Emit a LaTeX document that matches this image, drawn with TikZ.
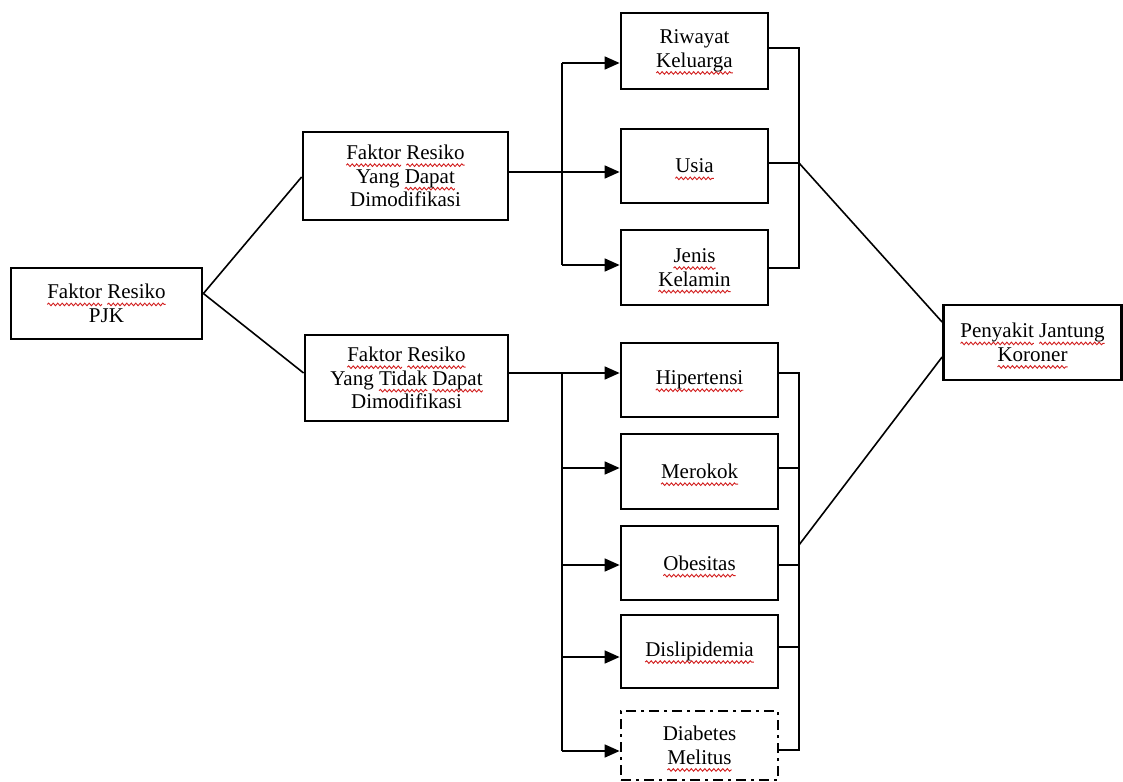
\documentclass[tikz,border=0pt]{standalone}
\usepackage{fontspec}
\setmainfont{Liberation Serif}
\usetikzlibrary{arrows.meta,decorations.pathmorphing}
\definecolor{spell}{RGB}{210,30,30}
\newcommand\rw[1]{\setbox0\hbox{#1}\leavevmode\rlap{\tikz[overlay,baseline=0pt,x=1pt,y=1pt]\draw[spell,solid,line width=0.9pt,decorate,decoration={snake,amplitude=1.3pt,segment length=4.5pt}] (0,-5.5) -- (\wd0,-5.5);}\box0\relax}
\tikzset{
  box/.style={draw, line width=2.8pt, inner sep=0pt, align=center,
    font=\fontsize{21}{23.5}\selectfont},
  dbox/.style={box, dash pattern=on 10pt off 5pt on 3pt off 5pt},
  conn/.style={line width=1.6pt},
  arr/.style={conn, -{Triangle[length=15pt,width=13pt]}}
}
\begin{document}
\begin{tikzpicture}[x=1pt,y=-1pt]
\clip (0,0) rectangle (1123,781);
\fill[white] (0,0) rectangle (1123,781);
% nodes
\node[box, minimum width=191pt, minimum height=71pt] (pjk) at (106.5,303.5) {\rw{Faktor} \rw{Resiko}\\PJK};
\node[box, minimum width=205pt, minimum height=88pt] (dapat) at (405.5,176) {\rw{Faktor} \rw{Resiko}\\Yang \rw{Dapat}\\Dimodifikasi};
\node[box, minimum width=203pt, minimum height=86pt] (tidak) at (406.5,378) {\rw{Faktor} \rw{Resiko}\\Yang \rw{Tidak} \rw{Dapat}\\Dimodifikasi};
\node[box, minimum width=147pt, minimum height=76pt] (riw) at (694.5,51) {Riwayat\\\rw{Keluarga}};
\node[box, minimum width=147pt, minimum height=74pt] (usia) at (694.5,166) {\rw{Usia}};
\node[box, minimum width=147pt, minimum height=75pt] (jenis) at (694.5,267.5) {\rw{Jenis}\\\rw{Kelamin}};
\node[box, minimum width=157pt, minimum height=74pt] (hip) at (699.5,380) {\rw{Hipertensi}};
\node[box, minimum width=157pt, minimum height=75pt] (mer) at (699.5,471.5) {\rw{Merokok}};
\node[box, minimum width=157pt, minimum height=74pt] (obe) at (699.5,563) {\rw{Obesitas}};
\node[box, minimum width=157pt, minimum height=73pt] (dis) at (699.5,651.5) {\rw{Dislipidemia}};
\node[dbox, minimum width=157pt, minimum height=69pt] (dia) at (699.5,745.5) {Diabetes\\\rw{Melitus}};
\node[box, minimum width=178pt, minimum height=75pt] (pjkor) at (1032.5,342.5) {\rw{Penyakit} \rw{Jantung}\\\rw{Koroner}};
% coordinates
\coordinate (pjkout) at ([yshift=10pt]pjk.east);
\coordinate (din) at ([yshift=-1pt]dapat.west);
\coordinate (tin) at ([yshift=5pt]tidak.west);
\coordinate (dout) at ([yshift=4pt]dapat.east);
\coordinate (tout) at ([yshift=5pt]tidak.east);
\coordinate (ub1) at (562,63);
\coordinate (ub3) at (562,265);
\coordinate (lb1) at (562,373);
\coordinate (lb2) at (562,468);
\coordinate (lb3) at (562,565);
\coordinate (lb4) at (562,657);
\coordinate (lb5) at (562,751);
\coordinate (ur1) at (799,48);
\coordinate (ur2) at (799,163);
\coordinate (ur3) at (799,268);
\coordinate (lr1) at (799,373);
\coordinate (lr2) at (799,468);
\coordinate (lr3) at (799,565);
\coordinate (lr4) at (799,647);
\coordinate (lr5) at (799,750);
\coordinate (lrm) at (799,545);
\coordinate (pin1) at ([yshift=20.5pt]pjkor.west);
\coordinate (pin2) at ([yshift=-14.5pt]pjkor.west);
% left connectors
\draw[conn] (pjkout) -- (din);
\draw[conn] (pjkout) -- (tin);
% upper bus
\draw[conn] (ub1) -- (ub3);
\draw[arr] (ub1) -- (ub1 -| riw.west);
\draw[arr] (dout) -- (dout -| usia.west);
\draw[arr] (ub3) -- (ub3 -| jenis.west);
% lower bus
\draw[conn] (lb1) -- (lb5);
\draw[arr] (tout) -- (tout -| hip.west);
\draw[arr] (lb2) -- (lb2 -| mer.west);
\draw[arr] (lb3) -- (lb3 -| obe.west);
\draw[arr] (lb4) -- (lb4 -| dis.west);
\draw[arr] (lb5) -- (lb5 -| dia.west);
% upper right bracket
\draw[conn] (ur1 -| riw.east) -- (ur1) -- (ur3) -- (ur3 -| jenis.east);
\draw[conn] (ur2 -| usia.east) -- (ur2);
\draw[conn] (ur2) -- (pin1);
% lower right bracket
\draw[conn] (lr1 -| hip.east) -- (lr1) -- (lr5) -- (lr5 -| dia.east);
\draw[conn] (lr2 -| mer.east) -- (lr2);
\draw[conn] (lr3 -| obe.east) -- (lr3);
\draw[conn] (lr4 -| dis.east) -- (lr4);
\draw[conn] (lrm) -- (pin2);
\end{tikzpicture}
\end{document}
